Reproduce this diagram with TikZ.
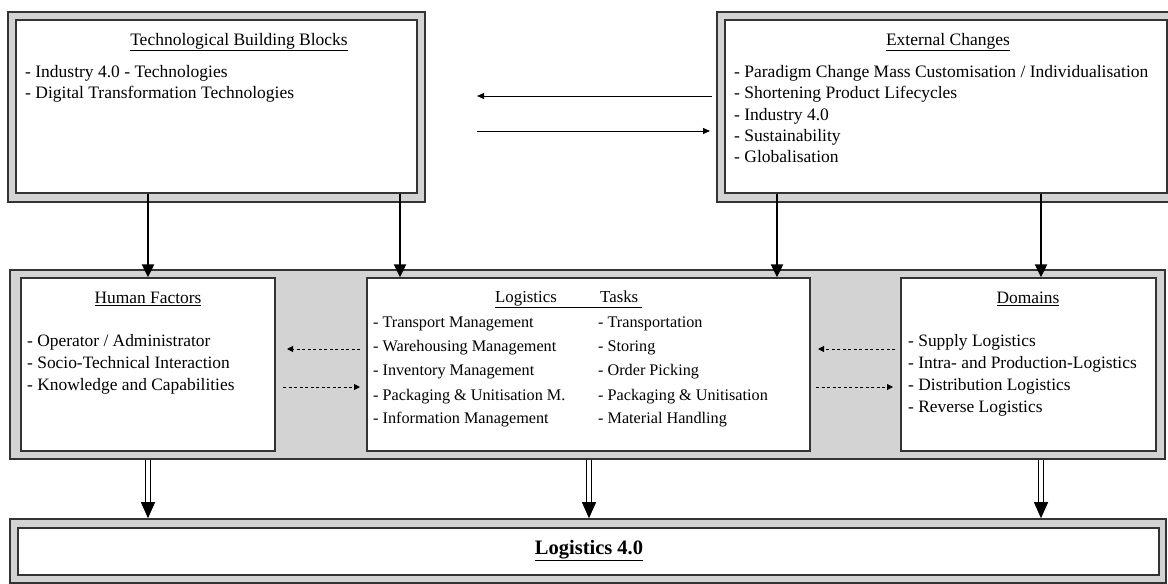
\documentclass[tikz,border=0pt]{standalone}
\usepackage{fontspec}
\setmainfont{Liberation Serif}
\usetikzlibrary{arrows.meta,fit}
\definecolor{bandgray}{HTML}{D3D3D3}
\definecolor{edge}{HTML}{333333}
\tikzset{
  band/.style={draw=edge, line width=1.6pt, fill=bandgray, inner sep=0pt},
  panel/.style={draw=edge, line width=1.4pt, fill=white, inner sep=0pt},
  toptxt/.style={inner sep=0pt, anchor=mid west, yshift=-3pt, font=\fontsize{17.5}{20}\selectfont},
  tophead/.style={inner sep=0pt, anchor=mid, yshift=-3pt, font=\fontsize{17.5}{20}\selectfont},
  midtxt/.style={inner sep=0pt, anchor=mid west, yshift=-3pt, font=\fontsize{17.4}{20}\selectfont},
  midhead/.style={inner sep=0pt, anchor=mid, yshift=-3pt, font=\fontsize{17.4}{20}\selectfont},
  logtxt/.style={inner sep=0pt, anchor=mid west, yshift=-3pt, font=\fontsize{16.2}{20}\selectfont},
  bigarrow/.style={line width=2.2pt, -{Triangle[length=13pt,width=12pt]}},
  thinarrow/.style={line width=1pt, -{Triangle[length=7pt,width=6pt]}},
  dasharrow/.style={line width=1pt, dash pattern=on 3pt off 2.5pt, -{Triangle[length=6pt,width=6pt]}},
  dblshaft/.style={double=white, draw=black, line width=1pt, double distance=4pt},
  dbltip/.style={line width=1pt, -{Triangle[length=16pt,width=14pt]}},
}
\begin{document}
\begin{tikzpicture}[x=1pt,y=-1pt]
\useasboundingbox (0,0) rectangle (1168,584);

% top row: building blocks and external changes
\node[band, fit={(8,12) (425,202)}] (tbbO) {};
\node[panel, fit={(16,20) (417,193)}] (tbb) {};
\node[band, fit={(717,12) (1178,202)}] (ecO) {};
\node[panel, fit={(725,20) (1167,193)}] (ec) {};

% middle band with the three panels
\node[band, fit={(10,270) (1165,459)}] (midO) {};
\node[panel, fit={(21,278) (275,451)}] (hf) {};
\node[panel, fit={(367,278) (810,451)}] (log) {};
\node[panel, fit={(901,278) (1156,451)}] (dom) {};

% bottom result box
\node[band, fit={(10,519) (1166,583)}] (botO) {};
\node[panel, fit={(18,528) (1159,575)}] (bot) {};

% texts of the top row
\node[tophead] (tbbH) at (239,40) {\underline{Technological Building Blocks}};
\node[toptxt] at (25,72) {- Industry 4.0 - Technologies};
\node[toptxt] at (25,93) {- Digital Transformation Technologies};

\node[tophead] (ecH) at (948,40) {\underline{External Changes}};
\node[toptxt] at (734,72) {- Paradigm Change Mass Customisation / Individualisation};
\node[toptxt] at (734,93) {- Shortening Product Lifecycles};
\node[toptxt] at (734,115) {- Industry 4.0};
\node[toptxt] at (734,136) {- Sustainability};
\node[toptxt] at (734,157) {- Globalisation};

% texts of the middle band
\node[midhead] (hfH) at (148,298) {\underline{Human Factors}};
\node[midtxt] at (27,341) {- Operator / Administrator};
\node[midtxt] at (27,363) {- Socio-Technical Interaction};
\node[midtxt] at (27,385) {- Knowledge and Capabilities};

\node[logtxt, font=\fontsize{16.8}{20}\selectfont] (logH) at (495,297) {\underline{\makebox[105pt][l]{Logistics}Tasks\hspace{4pt}}};
\node[logtxt] at (373,322) {- Transport Management};
\node[logtxt] at (373,346) {- Warehousing Management};
\node[logtxt] at (373,370) {- Inventory Management};
\node[logtxt] at (373,395) {- Packaging \& Unitisation M.};
\node[logtxt] at (373,418) {- Information Management};
\node[logtxt] at (598,322) {- Transportation};
\node[logtxt] at (598,346) {- Storing};
\node[logtxt] at (598,370) {- Order Picking};
\node[logtxt] at (598,395) {- Packaging \& Unitisation};
\node[logtxt] at (598,418) {- Material Handling};

\node[midhead] (domH) at (1028,298) {\underline{Domains}};
\node[midtxt] at (908,341) {- Supply Logistics};
\node[midtxt] at (908,363) {- Intra- and Production-Logistics};
\node[midtxt] at (908,385) {- Distribution Logistics};
\node[midtxt] at (908,407) {- Reverse Logistics};

% result text
\node[inner sep=0pt, anchor=mid, yshift=-2pt, font=\fontsize{20.5}{22}\selectfont\bfseries] (res) at (589,550) {\underline{Logistics 4.0}};

% exchange between the top boxes
\coordinate (ecL1) at (712,96);
\coordinate (tbbR1) at (477,96);
\coordinate (tbbR2) at (477,131);
\coordinate (ecL2) at (710,131);
\draw[thinarrow] (ecL1) -- (tbbR1);
\draw[thinarrow] (tbbR2) -- (ecL2);

% influences from the top row
\draw[bigarrow] (tbb.south -| hf.north) -- (hf.north);
\draw[bigarrow] (400,0 |- tbb.south) -- (400,0 |- log.north);
\draw[bigarrow] (777,0 |- ec.south) -- (777,0 |- log.north);
\draw[bigarrow] (1041,0 |- ec.south) -- (1041,0 |- dom.north);

% dashed exchanges inside the band
\draw[dasharrow] (360,349) -- (287,349);
\draw[dasharrow] (283,387) -- (360,387);
\draw[dasharrow] (895,349) -- (818,349);
\draw[dasharrow] (816,387) -- (893,387);

% double arrows into the result
\foreach \x in {148,589,1041}{
  \draw[dblshaft] (\x,0 |- midO.south) -- (\x,503);
  \draw[dbltip] (\x,502) -- (\x,0 |- botO.north);
}
\end{tikzpicture}
\end{document}
